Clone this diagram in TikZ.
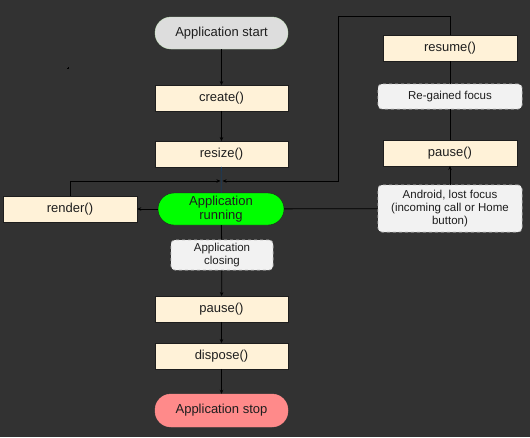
\documentclass[tikz,border=0pt]{standalone}
\usepackage{fontspec}
\setmainfont{Liberation Sans}
\usepackage{xcolor}
\usetikzlibrary{arrows.meta}

\definecolor{bgdark}{HTML}{323232}
\definecolor{procfill}{HTML}{FFF2D8}
\definecolor{boxedge}{HTML}{1E1E1E}
\definecolor{startfill}{HTML}{DDDDDD}
\definecolor{startedge}{HTML}{C8E8C0}
\definecolor{runfill}{HTML}{00FF00}
\definecolor{stopfill}{HTML}{FF8A8A}
\definecolor{notefill}{HTML}{F2F2F2}
\definecolor{noteedge}{HTML}{C4C4C4}
\definecolor{textdark}{HTML}{1E1E1E}
\definecolor{joinline}{HTML}{1A3A5A}

\tikzset{
  procbox/.style={draw=boxedge, fill=procfill, text=textdark, minimum width=133pt, minimum height=25.5pt, inner sep=0pt, font=\fontsize{13}{14}\selectfont},
  termbox/.style={draw=boxedge, text=textdark, rounded corners=16pt, minimum width=133pt, minimum height=32pt, inner sep=0pt, align=center, font=\fontsize{13}{14}\selectfont},
  notebox/.style={draw=noteedge, dashed, line width=0.8pt, fill=notefill, text=textdark, rounded corners=4pt, inner sep=0pt, align=center, font=\fontsize{11.5}{13}\selectfont},
  flow/.style={draw=black, line width=0.8pt, -{Stealth[length=4pt,width=3.5pt]}},
  wire/.style={draw=black, line width=0.8pt}
}

\begin{document}
\begin{tikzpicture}[x=1pt, y=-1pt]
  \fill[bgdark] (0,0) rectangle (530,437);
  \useasboundingbox (0,0) rectangle (530,437);

  % main column
  \node[termbox, fill=startfill, draw=startedge] (start) at (221.5,33) {Application start};
  \node[procbox] (create) at (221.5,98) {create()};
  \node[procbox] (resize) at (221.5,154) {resize()};
  \node[termbox, fill=runfill, minimum width=126pt] (running) at (221,209) {Application\\running};
  \node[procbox, minimum width=134pt] (render) at (70,209) {render()};
  \node[notebox, minimum width=102pt, minimum height=30pt] (closing) at (222,255) {Application\\closing};
  \node[procbox] (pauseL) at (221.5,309) {pause()};
  \node[procbox] (dispose) at (221.5,356) {dispose()};
  \node[termbox, fill=stopfill, draw=stopfill, minimum height=33pt] (stop) at (221.5,410.5) {Application stop};

  % right column
  \node[procbox, minimum width=134pt] (resume) at (450,48) {resume()};
  \node[notebox, minimum width=144pt, minimum height=25pt] (regained) at (450,96.5) {Re-gained focus};
  \node[procbox, minimum width=134pt] (pauseR) at (450,153) {pause()};
  \node[notebox, minimum width=144pt, minimum height=47pt] (lost) at (450,208.5) {Android, lost focus\\(incoming call or Home\\button)};

  \coordinate (join) at (221.5,181);
  \coordinate (loopT) at (338,16);

  \fill[black] (67,67.5) rectangle (69,68.5);
  \fill[black] (67.5,67) rectangle (68.5,69);

  \draw[flow] (start) -- (create);
  \draw[flow] (create) -- (resize);
  \draw[joinline, line width=0.8pt] (resize) -- (running);
  \draw[flow] (render.north) |- ([xshift=-1pt]join);
  \draw[flow] (resume.north) |- (loopT) |- ([xshift=1pt]join);
  \draw[flow] (running) -- (render);
  \draw[wire] (running) -- (lost);
  \draw[flow] (lost) -- (pauseR);
  \draw[wire] (pauseR) -- (regained);
  \draw[wire] (regained) -- (resume);
  \draw[wire] (running) -- (closing);
  \draw[flow] (closing) -- (pauseL);
  \draw[flow] (pauseL) -- (dispose);
  \draw[flow] (dispose) -- (stop);
\end{tikzpicture}
\end{document}
